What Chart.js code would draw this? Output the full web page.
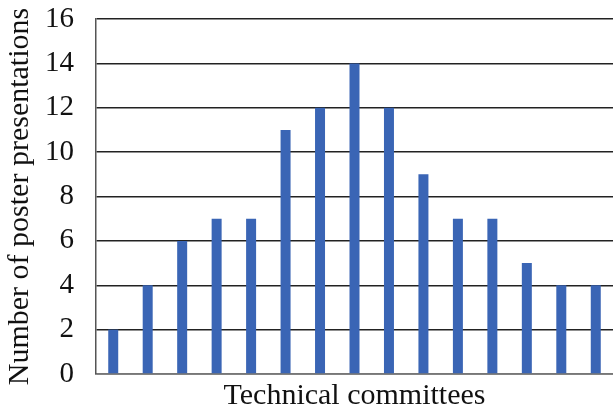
<!DOCTYPE html>
<html>
<head>
<meta charset="utf-8">
<script src="https://cdn.jsdelivr.net/npm/chart.js@4/dist/chart.umd.min.js"></script>
<style>
  html, body { margin: 0; padding: 0; background: #fff; }
  #wrap { width: 613px; height: 414px; }
</style>
</head>
<body>
<div id="wrap"><canvas id="chart1Canv"></canvas></div>
<script>
// one bar per technical committee
const committees = ['TC1', 'TC2', 'TC3', 'TC4', 'TC5', 'TC6', 'TC7', 'TC8',
                    'TC9', 'TC10', 'TC11', 'TC12', 'TC13', 'TC14', 'TC15'];
const posterCounts = [2, 4, 6, 7, 7, 11, 12, 14, 12, 9, 7, 7, 5, 4, 4];

const serif = '"Liberation Serif", "Times New Roman", serif';

const chart1Canv = document.getElementById('chart1Canv');
const chart1Chart = new Chart(chart1Canv, {
    type: 'bar',
    data: {
        labels: committees,
        datasets: [{
            label: 'Posters',
            backgroundColor: '#3a65b5',
            borderWidth: 0,
            barPercentage: 0.58,
            categoryPercentage: 0.5,
            data: posterCounts
        }]
    },
    options: {
        responsive: true,
        maintainAspectRatio: false,
        animation: false,
        layout: { padding: { top: 19, right: 0, left: 0, bottom: 0 } },
        plugins: {
            legend: { display: false },
            tooltip: { enabled: false }
        },
        scales: {
            x: {
                ticks: { display: false },
                grid: { display: true, drawOnChartArea: false, drawTicks: false },
                border: { display: true, color: '#777', width: 1.5 },
                afterFit: scale => { scale.paddingLeft = 0; scale.paddingRight = 0; },
                title: {
                    display: true,
                    text: 'Technical committees',
                    color: '#111',
                    font: { family: serif, size: 30 },
                    padding: { top: 4, bottom: 0 }
                }
            },
            y: {
                min: 0,
                max: 16,
                afterFit: scale => {
                    scale.width = 96;
                    scale.paddingTop = 0;
                    scale.paddingBottom = 0;
                },
                ticks: {
                    stepSize: 2,
                    color: '#111',
                    padding: 22,
                    font: { family: serif, size: 29 }
                },
                grid: { color: '#222', lineWidth: 1.5, drawTicks: false },
                border: { display: true, color: '#555', width: 1.5 },
                title: {
                    display: true,
                    text: 'Number of poster presentations',
                    color: '#111',
                    font: { family: serif, size: 30 },
                    padding: { top: 2, bottom: 0 }
                }
            }
        }
    }
});
</script>
</body>
</html>
